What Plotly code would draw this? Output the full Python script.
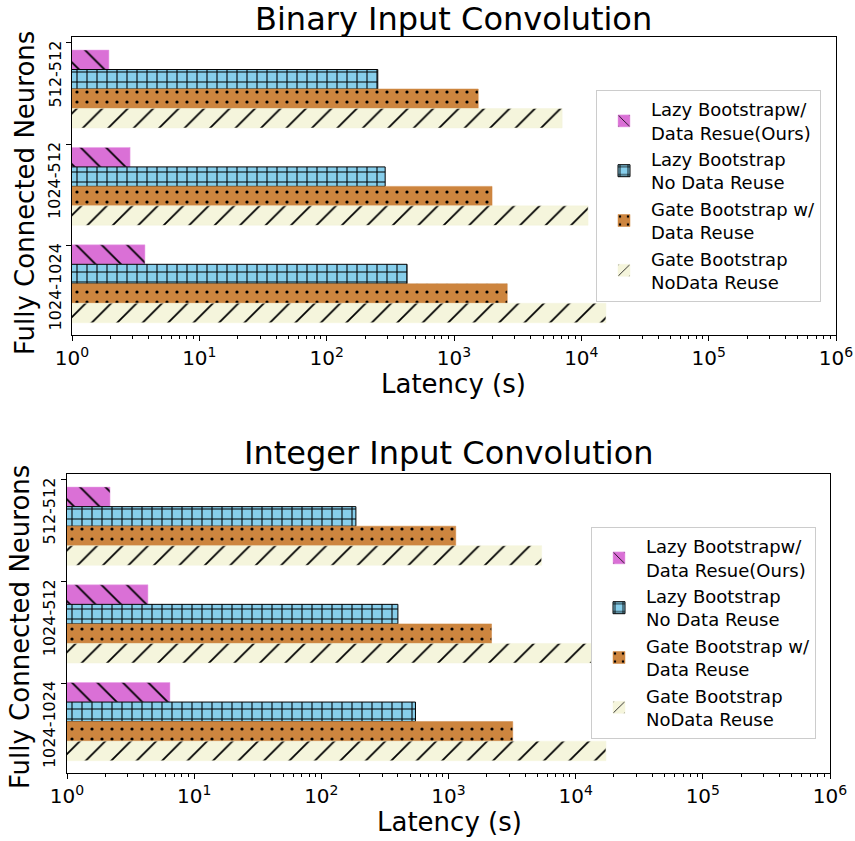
import plotly.graph_objects as go
from plotly.subplots import make_subplots

categories = ["512-512", "1024-512", "1024-1024"]
series_names = [
    "Lazy Bootstrapw/<br>Data Resue(Ours)",
    "Lazy Bootstrap<br>No Data Reuse",
    "Gate Bootstrap w/<br>Data Reuse",
    "Gate Bootstrap<br>NoData Reuse",
]
binary_lazy_reuse = [1.95, 2.86, 3.74]
binary_lazy_noreuse = [252, 288, 428]
binary_gate_reuse = [1550, 1990, 2620]
binary_gate_noreuse = [7070, 11300, 15600]

integer_lazy_reuse = [2.18, 4.33, 6.45]
integer_lazy_noreuse = [187, 400, 550]
integer_gate_reuse = [1140, 2180, 3200]
integer_gate_noreuse = [5400, 13400, 17300]

x_tick_vals = [1, 10, 100, 1000, 10000, 100000, 1000000]
x_tick_text = ["10<sup>0</sup>", "10<sup>1</sup>", "10<sup>2</sup>", "10<sup>3</sup>",
               "10<sup>4</sup>", "10<sup>5</sup>", "10<sup>6</sup>"]

colors = ["#DA70D6", "#87CEEB", "#CD853F", "#F5F5DC"]
line_colors = ["#E9A0E6", "#000000", "#CD853F", "#F5F5DC"]
patterns = ["\\", "+", ".", "/"]
pattern_sizes = [18, 10, 10, 18]
pattern_solidity = [0.1, 0.2, 0.08, 0.1]

FONT = "DejaVu Sans"
W, H = 855, 841


def px(x):
    return x / W


def py(y):
    return 1 - y / H


fig = make_subplots(rows=2, cols=1)

group_step = 5
datasets = [
    [binary_lazy_reuse, binary_lazy_noreuse, binary_gate_reuse, binary_gate_noreuse],
    [integer_lazy_reuse, integer_lazy_noreuse, integer_gate_reuse, integer_gate_noreuse],
]
for row, data in enumerate(datasets, start=1):
    for k, vals in enumerate(data):
        ypos = [g * group_step + k for g in range(len(categories))]
        fig.add_trace(go.Bar(
            x=vals, y=ypos, orientation="h", width=1.0,
            name=series_names[k],
            legend="legend" if row == 1 else "legend2",
            marker=dict(color=colors[k],
                        line=dict(color=line_colors[k], width=1 if k == 1 else 0.5),
                        pattern=dict(shape=patterns[k], fgcolor="#000000", fgopacity=1,
                                     size=pattern_sizes[k], solidity=pattern_solidity[k])),
            hoverinfo="skip",
        ), row=row, col=1)

tick_pos = [-0.87, 4.34, 9.55]

axis_common = dict(showline=True, linecolor="black", linewidth=1, mirror=True,
                   showgrid=False, zeroline=False, ticks="outside", ticklen=5,
                   tickcolor="black", automargin=False)

fig.update_xaxes(type="log", range=[0, 6], tickvals=x_tick_vals, ticktext=x_tick_text,
                 tickfont=dict(family=FONT, size=20, color="black"),
                 minor=dict(ticks="outside", ticklen=3, tickcolor="black", dtick="D1", showgrid=False),
                 **axis_common)
fig.update_yaxes(range=[14.13, -1.17], tickvals=tick_pos, showticklabels=False,
                 **axis_common)

annotations = [
    dict(text="Binary Input Convolution", x=px(453), y=py(19), xref="paper", yref="paper",
         showarrow=False, font=dict(family=FONT, size=32), xanchor="center", yanchor="middle"),
    dict(text="Integer Input Convolution", x=px(449), y=py(453), xref="paper", yref="paper",
         showarrow=False, font=dict(family=FONT, size=32), xanchor="center", yanchor="middle"),
    dict(text="Latency (s)", x=px(453), y=py(384), xref="paper", yref="paper",
         showarrow=False, font=dict(family=FONT, size=26), xanchor="center", yanchor="middle"),
    dict(text="Latency (s)", x=px(449), y=py(822), xref="paper", yref="paper",
         showarrow=False, font=dict(family=FONT, size=26), xanchor="center", yanchor="middle"),
    dict(text="Fully Connected Neurons", x=px(25), y=py(193), xref="paper", yref="paper",
         showarrow=False, font=dict(family=FONT, size=26), textangle=-90,
         xanchor="center", yanchor="middle"),
    dict(text="Fully Connected Neurons", x=px(20), y=py(627), xref="paper", yref="paper",
         showarrow=False, font=dict(family=FONT, size=26), textangle=-90,
         xanchor="center", yanchor="middle"),
]
# category tick labels (rotated, starting at each tick)
for yref, xc in (("y", 55), ("y2", 49)):
    for cat, tp in zip(categories, tick_pos):
        annotations.append(dict(text=cat, x=px(xc), y=tp - 0.2, xref="paper", yref=yref,
                                showarrow=False, font=dict(family=FONT, size=16),
                                textangle=-90, xanchor="center", yanchor="top"))

fig.update_layout(
    width=W, height=H,
    margin=dict(l=0, r=0, t=0, b=0, autoexpand=False),
    plot_bgcolor="white", paper_bgcolor="white",
    font=dict(family=FONT, color="black"),
    barmode="overlay",
    xaxis=dict(domain=[px(72), px(836)], anchor="y"),
    yaxis=dict(domain=[py(335), py(37)], anchor="x"),
    xaxis2=dict(domain=[px(67), px(830)], anchor="y2"),
    yaxis2=dict(domain=[py(773), py(474)], anchor="x2"),
    legend=dict(x=px(596), y=py(90), xanchor="left", yanchor="top", itemwidth=44,
                bordercolor="#cccccc", borderwidth=1, bgcolor="rgba(255,255,255,0.8)",
                font=dict(family=FONT, size=18, color="black"), tracegroupgap=0),
    legend2=dict(x=px(591), y=py(527), xanchor="left", yanchor="top", itemwidth=44,
                 bordercolor="#cccccc", borderwidth=1, bgcolor="rgba(255,255,255,0.8)",
                 font=dict(family=FONT, size=18, color="black"), tracegroupgap=0),
    showlegend=True,
    annotations=annotations,
)

fig.write_html("out.html", config={"displayModeBar": False},
               post_script="document.body.style.margin='0px';")
